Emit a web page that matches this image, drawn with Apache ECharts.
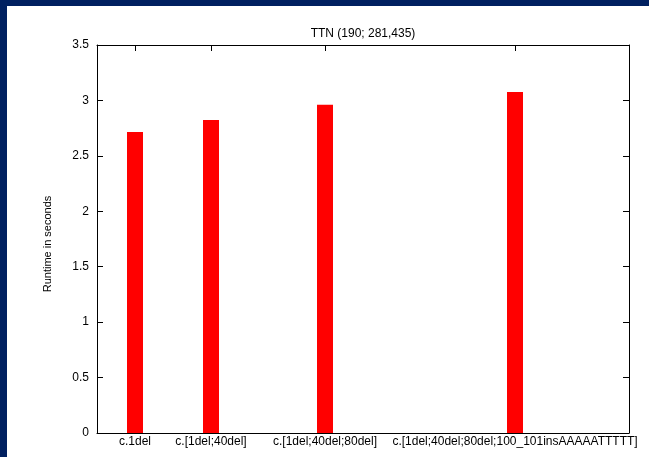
<!DOCTYPE html>
<html>
<head>
<meta charset="utf-8">
<script src="https://cdn.jsdelivr.net/npm/echarts@6/dist/echarts.min.js"></script>
<style>
  html, body { margin: 0; padding: 0; width: 649px; height: 457px; background: #002060; overflow: hidden; }
  #chart { position: absolute; left: 7px; top: 6px; width: 642px; height: 451px; background: #ffffff; }
</style>
</head>
<body>
<div id="chart"></div>
<script>
// ---- data ----
var title = 'TTN (190; 281,435)';
var yAxisName = 'Runtime in seconds';
var categories = ['c.1del', 'c.[1del;40del]', 'c.[1del;40del;80del]', 'c.[1del;40del;80del;100_101insAAAAATTTTT]'];
var xValues = [1, 3, 6, 11];
var runtimes = [2.716, 2.823, 2.960, 3.076];
var xMin = 0, xMax = 14;
var yMin = 0, yMax = 3.5, yStep = 0.5;

var chart = echarts.init(document.getElementById('chart'), null, { renderer: 'canvas' });
var font = 'Liberation Sans, Arial, Helvetica, sans-serif';
var seriesData = xValues.map(function (x, i) { return [x, runtimes[i]]; });
var labelMap = {};
xValues.forEach(function (x, i) { labelMap[x] = categories[i]; });

var axisLine = { show: true, onZero: false, lineStyle: { color: '#000', width: 1 } };
var tickStyle = { color: '#000', width: 1 };

chart.setOption({
  animation: false,
  backgroundColor: '#ffffff',
  title: {
    text: title,
    left: 356, top: 21, textAlign: 'center',
    textStyle: { fontFamily: font, fontSize: 12, fontWeight: 'normal', color: '#000', lineHeight: 14 },
    padding: 0
  },
  grid: { left: 90, top: 39, right: 20, bottom: 24 },
  xAxis: [{
    type: 'value', min: xMin, max: xMax, position: 'bottom',
    axisLine: axisLine,
    splitLine: { show: false },
    axisTick: { show: true, inside: true, length: 6, lineStyle: tickStyle, customValues: xValues },
    axisLabel: {
      show: true, margin: 3, customValues: xValues,
      fontFamily: font, fontSize: 12, color: '#000',
      formatter: function (v) { return labelMap[v] || ''; }
    }
  }, {
    type: 'value', min: xMin, max: xMax, position: 'top',
    axisLine: axisLine,
    splitLine: { show: false },
    axisTick: { show: true, inside: true, length: 6, lineStyle: tickStyle, customValues: xValues },
    axisLabel: { show: false }
  }],
  yAxis: [{
    type: 'value', min: yMin, max: yMax, interval: yStep, position: 'left',
    axisLine: axisLine,
    splitLine: { show: false },
    axisTick: { show: true, inside: true, length: 6, lineStyle: tickStyle },
    axisLabel: { margin: 8, fontFamily: font, fontSize: 12, color: '#000' }
  }, {
    type: 'value', min: yMin, max: yMax, interval: yStep, position: 'right',
    axisLine: axisLine,
    splitLine: { show: false },
    axisTick: { show: true, inside: true, length: 6, lineStyle: tickStyle },
    axisLabel: { show: false }
  }],
  graphic: [{
    type: 'text',
    x: 41, y: 238,
    rotation: Math.PI / 2,
    style: {
      text: yAxisName, fontFamily: font, fontSize: 11, fill: '#000',
      align: 'center', verticalAlign: 'middle'
    }
  }],
  series: [{
    type: 'bar',
    xAxisIndex: 0, yAxisIndex: 0,
    data: seriesData,
    barWidth: 16,
    itemStyle: { color: '#ff0000' }
  }]
});
</script>
</body>
</html>
